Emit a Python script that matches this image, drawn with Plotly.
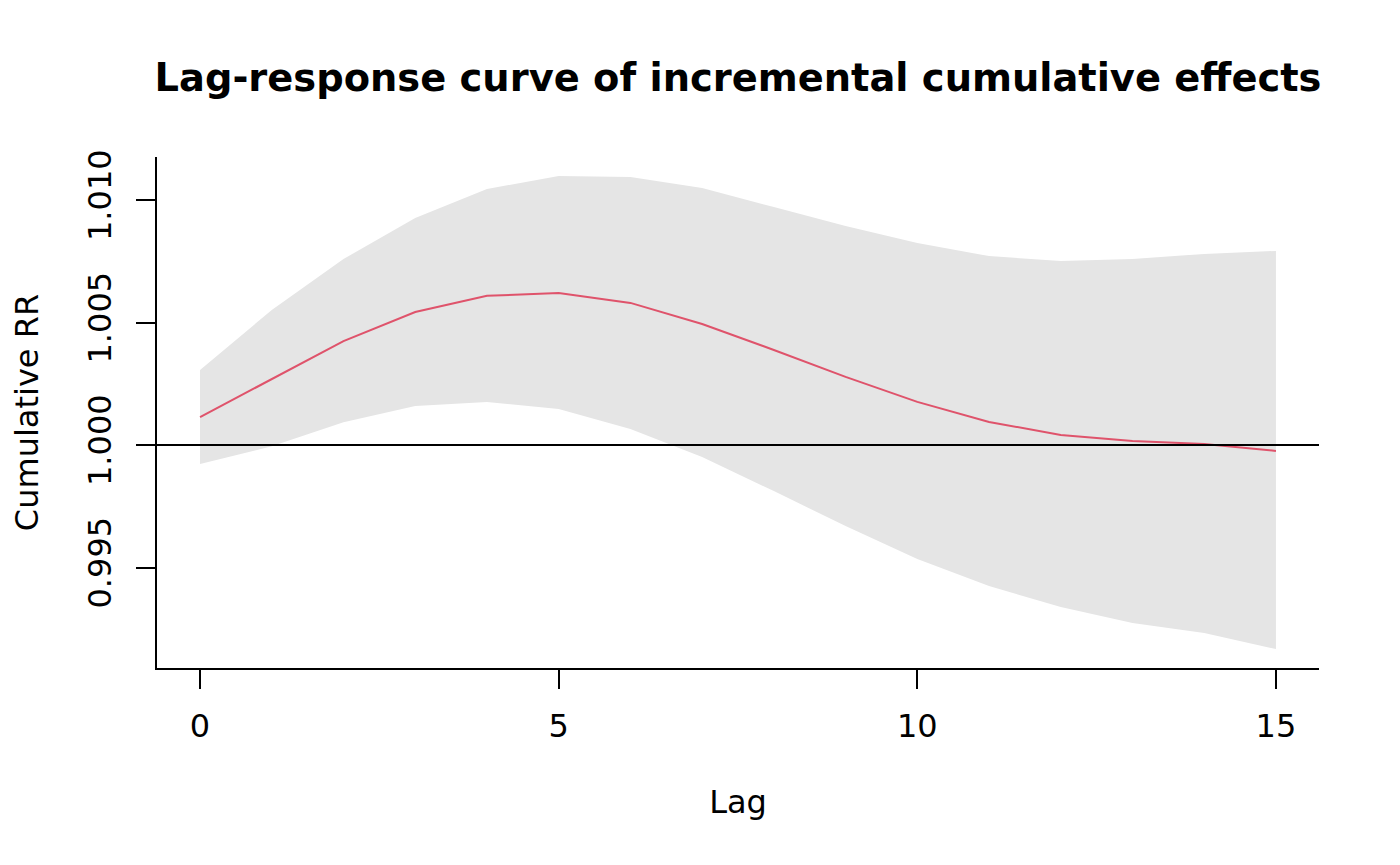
import plotly.graph_objects as go

lag = list(range(16))
rr_fit = [1.00114, 1.00270, 1.00424, 1.00543, 1.00609, 1.00620, 1.00580, 1.00494,
          1.00388, 1.00278, 1.00176, 1.00094, 1.00041, 1.00016, 1.00004, 0.99976]
rr_high = [1.00306, 1.00551, 1.00759, 1.00927, 1.01045, 1.01098, 1.01094, 1.01049,
           1.00971, 1.00894, 1.00824, 1.00771, 1.00751, 1.00759, 1.00780, 1.00792]
rr_low = [0.99922, 0.99995, 1.00093, 1.00159, 1.00176, 1.00147, 1.00065, 0.99951,
          0.99812, 0.99669, 0.99535, 0.99424, 0.99339, 0.99273, 0.99233, 0.99167]
x_ticks = [0, 5, 10, 15]
y_ticks = [0.995, 1.000, 1.005, 1.010]
y_tick_text = ["0.995", "1.000", "1.005", "1.010"]

FONT = "DejaVu Sans"

fig = go.Figure()
fig.add_trace(go.Scatter(
    x=lag + lag[::-1], y=rr_high + rr_low[::-1],
    fill="toself", fillcolor="#E5E5E5", line=dict(width=0),
    mode="lines", hoverinfo="skip", showlegend=False))
fig.add_hline(y=1.0, line=dict(color="black", width=2))
fig.add_trace(go.Scatter(
    x=lag, y=rr_fit, mode="lines",
    line=dict(color="#DF536B", width=2), showlegend=False))

fig.update_layout(
    width=1400, height=865,
    margin=dict(l=149, r=89, t=149, b=205),
    paper_bgcolor="white", plot_bgcolor="white",
    font=dict(family=FONT, size=32, color="black"),
    title=dict(text="<b>Lag-response curve of incremental cumulative effects</b>",
               x=0.5, xref="paper", xanchor="center",
               y=1 - 70 / 865, yref="container", yanchor="middle",
               font=dict(family=FONT, size=38.4, color="black")),
)
fig.update_xaxes(
    range=[-0.6, 15.6], tickvals=x_ticks, ticktext=[str(v) for v in x_ticks],
    showgrid=False, zeroline=False, showline=True, linecolor="black", linewidth=2,
    ticks="outside", ticklen=19, tickwidth=2, tickcolor="black",
    ticklabelstandoff=10,
    title=dict(text="Lag", standoff=46, font=dict(size=32)))
fig.update_yaxes(
    range=[0.990898, 1.011755], tickvals=y_ticks, ticktext=y_tick_text,
    tickangle=-90,
    showgrid=False, zeroline=False, showline=True, linecolor="black", linewidth=2,
    ticks="outside", ticklen=19, tickwidth=2, tickcolor="black",
    ticklabelstandoff=12,
    title=dict(text="Cumulative RR", standoff=40, font=dict(size=32)))

fig.write_html("out.html")
